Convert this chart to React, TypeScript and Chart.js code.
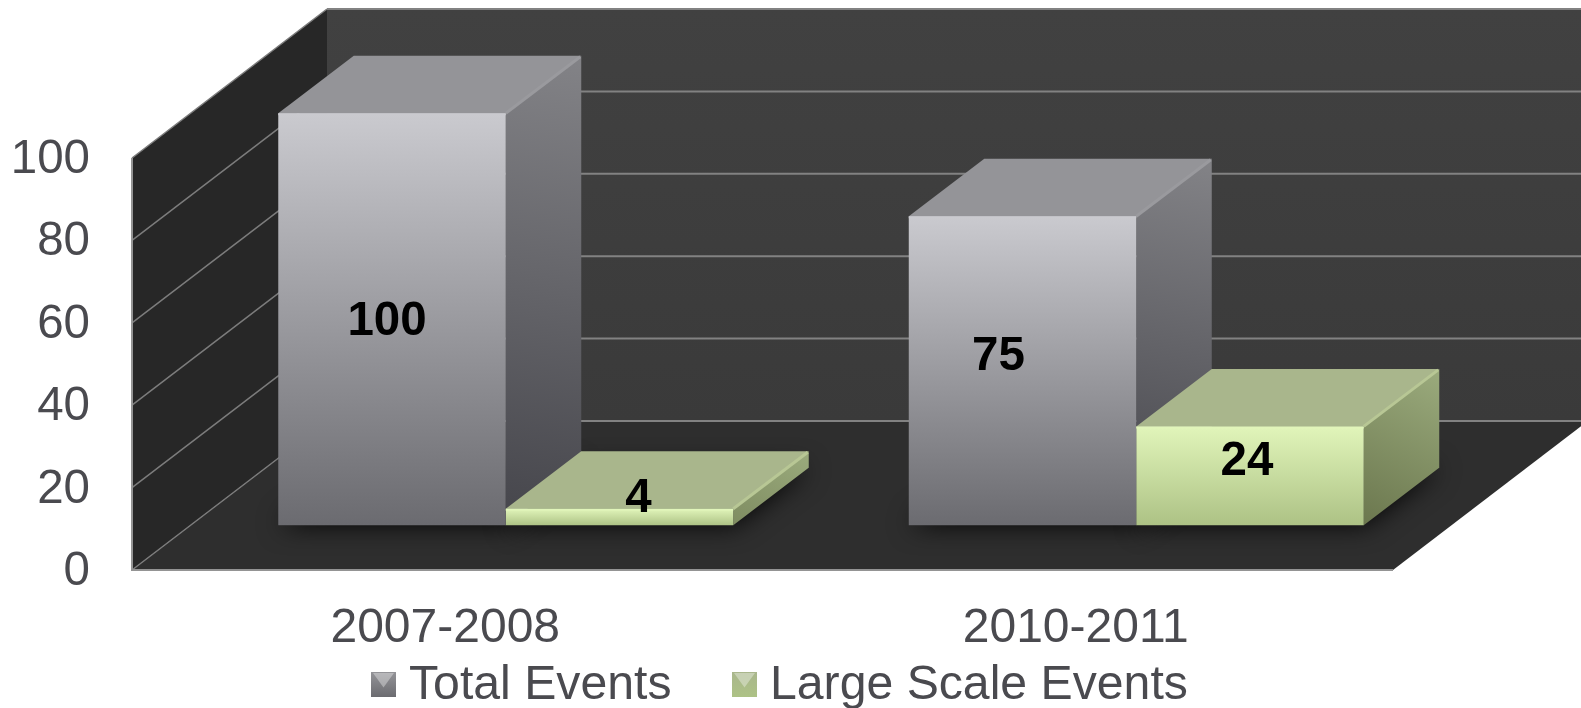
import React, { useEffect, useRef } from "react";
import { Chart, registerables } from "chart.js";

Chart.register(...registerables);

const periods = ["2007-2008", "2010-2011"];
const totalEvents = [100, 75];
const largeScaleEvents = [4, 24];
const yTicks = [0, 20, 40, 60, 80, 100];

const FONT = '"Liberation Sans", Arial, sans-serif';
const TEXT = "#4a4a4f";
const WALL_DX = 195;
const WALL_DY = 149;
const BAR_SHIFT_DX = 58.5;
const BAR_SHIFT_DY = 44.7;
const BAR_DEPTH_DX = 75.5;
const BAR_DEPTH_DY = 57.5;

const palette = [
  { frontTop: "#cacacf", frontBottom: "#6b6b70", top: "#949498", sideTop: "#838387", sideBottom: "#45454b", rim: "#9a9a9e" },
  { frontTop: "#e1f5ba", frontBottom: "#adc285", top: "#a9b68c", sideTop: "#9bab7d", sideBottom: "#6b774e", rim: "#b8c795" },
];
// nudges of the value labels away from the middle of each front face: [dataset][category]
const labelNudge = [
  [[-5, 1], [-24, -16]],
  [[19, -20], [-3, -16]],
];

const depthPlugin = {
  id: "depth3d",
  beforeDraw(chart: any) {
    const { ctx, chartArea: a, scales } = chart;
    const y = scales.y;
    const L = a.left, R = a.right, B = a.bottom, T = a.top;
    const poly = (pts: number[][], fill: any) => {
      ctx.beginPath();
      pts.forEach((p, i) => (i ? ctx.lineTo(p[0], p[1]) : ctx.moveTo(p[0], p[1])));
      ctx.closePath();
      ctx.fillStyle = fill;
      ctx.fill();
    };
    ctx.save();
    const wall = ctx.createLinearGradient(0, T - WALL_DY, 0, B - WALL_DY);
    wall.addColorStop(0, "#414141");
    wall.addColorStop(1, "#3a3a3a");
    poly([[L + WALL_DX, T - WALL_DY], [R + WALL_DX, T - WALL_DY], [R + WALL_DX, B - WALL_DY], [L + WALL_DX, B - WALL_DY]], wall);
    poly([[L, T], [L + WALL_DX, T - WALL_DY], [L + WALL_DX, B - WALL_DY], [L, B]], "#272727");
    poly([[L, B], [L + WALL_DX, B - WALL_DY], [R + WALL_DX, B - WALL_DY], [R, B]], "#2e2e2e");

    // grid lines, from the value axis along the side wall and the back wall
    yTicks.forEach((v) => {
      const p = y.getPixelForValue(v);
      ctx.strokeStyle = "#7c7c7c";
      ctx.lineWidth = 1.5;
      ctx.beginPath();
      ctx.moveTo(L, p);
      ctx.lineTo(L + WALL_DX, p - WALL_DY);
      ctx.stroke();
      ctx.strokeStyle = "#828282";
      ctx.lineWidth = 2;
      ctx.beginPath();
      ctx.moveTo(L + WALL_DX, p - WALL_DY);
      ctx.lineTo(R + WALL_DX, p - WALL_DY);
      ctx.stroke();
    });
    ctx.strokeStyle = "#949494";
    ctx.lineWidth = 2;
    ctx.beginPath();
    ctx.moveTo(L, T);
    ctx.lineTo(L, B);
    ctx.lineTo(R, B);
    ctx.stroke();
    ctx.restore();
  },
  beforeDatasetsDraw(chart: any) {
    const { ctx } = chart;
    const metas = chart.data.datasets.map((_: any, i: number) => chart.getDatasetMeta(i));
    ctx.save();
    ctx.translate(BAR_SHIFT_DX, -BAR_SHIFT_DY);

    // soft shadows on the floor
    metas.forEach((m: any) =>
      m.data.forEach((el: any) => {
        const xl = el.x - el.width / 2, xr = el.x + el.width / 2, b = el.base;
        ctx.save();
        ctx.shadowColor = "rgba(0,0,0,0.9)";
        ctx.shadowBlur = 26;
        ctx.fillStyle = "#1a1a1a";
        ctx.beginPath();
        ctx.moveTo(xl, b);
        ctx.lineTo(xr, b);
        ctx.lineTo(xr + BAR_DEPTH_DX, b - BAR_DEPTH_DY);
        ctx.lineTo(xl + BAR_DEPTH_DX, b - BAR_DEPTH_DY);
        ctx.closePath();
        ctx.fill();
        ctx.restore();
      })
    );

    // side and top faces, left to right so nearer blocks overlap
    const n = chart.data.labels.length;
    for (let j = 0; j < n; j++) {
      metas.forEach((m: any, i: number) => {
        const el = m.data[j];
        const c = palette[i];
        const xl = el.x - el.width / 2, xr = el.x + el.width / 2, t = el.y, b = el.base;
        const dx = BAR_DEPTH_DX, dy = BAR_DEPTH_DY;
        const side = ctx.createLinearGradient(xr + dx, t - dy, xr, Math.max(b, t - dy + 150));
        side.addColorStop(0, c.sideTop);
        side.addColorStop(1, c.sideBottom);
        ctx.fillStyle = side;
        ctx.beginPath();
        ctx.moveTo(xr, t);
        ctx.lineTo(xr + dx, t - dy);
        ctx.lineTo(xr + dx, b - dy);
        ctx.lineTo(xr, b);
        ctx.closePath();
        ctx.fill();

        ctx.fillStyle = c.top;
        ctx.beginPath();
        ctx.moveTo(xl, t);
        ctx.lineTo(xl + dx, t - dy);
        ctx.lineTo(xr + dx, t - dy);
        ctx.lineTo(xr, t);
        ctx.closePath();
        ctx.fill();

        // bevel highlight along the upper edge
        ctx.strokeStyle = c.rim;
        ctx.lineWidth = 3;
        ctx.lineCap = "butt";
        ctx.beginPath();
        ctx.moveTo(xr, t);
        ctx.lineTo(xr + dx - 1, t - dy + 1);
        ctx.stroke();
      });
    }
    // library bars are drawn next, shifted onto the front plane of the blocks
  },
  afterDatasetsDraw(chart: any) {
    const { ctx } = chart;
    // still translated: rims on the front faces
    chart.data.datasets.forEach((_: any, i: number) => {
      chart.getDatasetMeta(i).data.forEach((el: any) => {
        ctx.strokeStyle = palette[i].frontTop;
        ctx.lineWidth = 2;
        ctx.beginPath();
        ctx.moveTo(el.x - el.width / 2, el.y + 1);
        ctx.lineTo(el.x + el.width / 2, el.y + 1);
        ctx.stroke();
      });
    });
    ctx.restore();

    // value labels
    ctx.save();
    ctx.font = `bold 47.5px ${FONT}`;
    ctx.fillStyle = "#000000";
    ctx.textAlign = "center";
    ctx.textBaseline = "middle";
    chart.data.datasets.forEach((ds: any, i: number) => {
      chart.getDatasetMeta(i).data.forEach((el: any, j: number) => {
        const o = labelNudge[i][j];
        const cx = el.x + BAR_SHIFT_DX + o[0];
        const cy = (el.y + el.base) / 2 - BAR_SHIFT_DY + o[1];
        ctx.fillText(String(ds.data[j]), cx, cy + 2);
      });
    });
    ctx.restore();

    // legend
    ctx.save();
    ctx.font = `48.2px ${FONT}`;
    ctx.textBaseline = "alphabetic";
    ctx.textAlign = "left";
    const swatchX = [371, 732];
    const swatchY = 672;
    const size = 25;
    chart.data.datasets.forEach((ds: any, i: number) => {
      const c = palette[i];
      const x = swatchX[i];
      const g = ctx.createLinearGradient(0, swatchY, 0, swatchY + size);
      g.addColorStop(0, c.top);
      g.addColorStop(1, c.frontBottom);
      ctx.fillStyle = g;
      ctx.fillRect(x, swatchY, size, size);
      ctx.fillStyle = "rgba(255,255,255,0.35)";
      ctx.beginPath();
      ctx.moveTo(x + 2, swatchY + 1);
      ctx.lineTo(x + size - 2, swatchY + 1);
      ctx.lineTo(x + size / 2, swatchY + size * 0.62);
      ctx.closePath();
      ctx.fill();
      ctx.fillStyle = TEXT;
      ctx.fillText(ds.label, x + size + 13, 699);
    });
    ctx.restore();
  },
};

const frontFill = (i: number) => (c: any) => {
  const { chart, dataIndex, dataset } = c;
  const p = palette[i];
  if (dataIndex === undefined || !chart.scales?.y) return p.frontTop;
  const y = chart.scales.y;
  const y0 = y.getPixelForValue(dataset.data[dataIndex]);
  const y1 = y.getPixelForValue(0);
  if (!Number.isFinite(y0) || !Number.isFinite(y1)) return p.frontTop;
  const g = chart.ctx.createLinearGradient(0, y0, 0, y1);
  g.addColorStop(0, p.frontTop);
  g.addColorStop(1, p.frontBottom);
  return g;
};

export default function App() {
  const ref = useRef<HTMLCanvasElement>(null);
  useEffect(() => {
    document.body.style.margin = "0";
    document.body.style.background = "#ffffff";
    const chart = new Chart(ref.current as HTMLCanvasElement, {
      type: "bar",
      data: {
        labels: periods,
        datasets: [
          { label: "Total Events", data: totalEvents, backgroundColor: frontFill(0) as any, categoryPercentage: 0.7216, barPercentage: 1, clip: false as any },
          { label: "Large Scale Events", data: largeScaleEvents, backgroundColor: frontFill(1) as any, categoryPercentage: 0.7216, barPercentage: 1, clip: false as any },
        ],
      },
      options: {
        responsive: false,
        animation: false,
        devicePixelRatio: 1,
        layout: { padding: { top: 158, right: 188, left: 0, bottom: 0 } },
        plugins: { legend: { display: false }, tooltip: { enabled: false } },
        scales: {
          x: {
            grid: { display: false },
            border: { display: false },
            ticks: { color: TEXT, font: { family: FONT, size: 48 }, padding: 22, maxRotation: 0, labelOffset: -2 } as any,
            afterFit: (s: any) => { s.height = 138; },
          },
          y: {
            min: 0,
            max: 100,
            grid: { display: false },
            border: { display: false },
            ticks: { color: TEXT, font: { family: FONT, size: 47.5 }, padding: 34, stepSize: 20, labelOffset: 2 } as any,
            afterFit: (s: any) => { s.width = 132; },
          },
        },
      },
      plugins: [depthPlugin as any],
    });
    return () => chart.destroy();
  }, []);
  return (
    <div style={{ width: 1581, height: 708, overflow: "hidden" }}>
      <canvas ref={ref} width={1581} height={708} style={{ display: "block", width: 1581, height: 708 }} />
    </div>
  );
}
